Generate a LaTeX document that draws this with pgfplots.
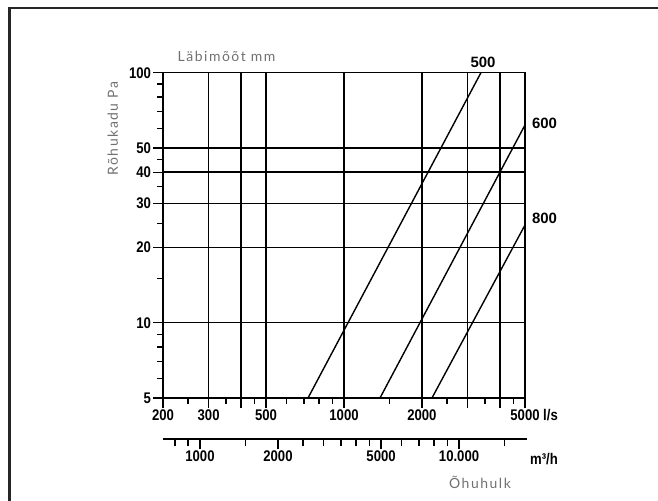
\documentclass[border=0pt]{standalone}
\usepackage{fontspec}
\setmainfont{Liberation Sans}
\newfontfamily\tickfont{Liberation Sans Bold}[FakeStretch=0.85]
\newfontfamily\boldfont{Liberation Sans Bold}
\newfontfamily\labfont{Lato}[LetterSpace=11]
\usepackage{pgfplots}
\pgfplotsset{compat=1.18}
\definecolor{labgray}{HTML}{707070}
\definecolor{framegray}{HTML}{262626}

\begin{document}
\begin{tikzpicture}
\useasboundingbox (-163bp,-103bp) rectangle (495bp,398bp);
\draw[line width=2.6bp, framegray, line join=miter] (-153.5bp,-120bp) -- (-153.5bp,390bp) -- (520bp,390bp);

\begin{axis}[
  at={(0bp,0bp)}, anchor=south west,
  scale only axis, width=362bp, height=325.3bp,
  xmode=log, ymode=log,
  xmin=200, xmax=5000, ymin=5, ymax=100,
  axis line style={line width=1.4bp},
  xtick={200,300,400,500,1000,2000,3000,4000,5000},
  xticklabels={200,300,,500,1000,2000,,,5000\rlap{ l/s}},
  ytick={5,10,20,30,40,50,100},
  yticklabels={5,10,20,30,40,50,100},
  minor xtick={250,350,450,600,700,800,900,1500,2500,3500,4500},
  minor ytick={6,7,8,9,15,25,35,45,60,70,80,90},
  tick pos=left,
  tick align=outside,
  major tick length=10bp, minor tick length=6bp,
  every tick/.style={black, line width=1.3bp},
  grid=major,
  major grid style={black, line width=1.4bp},
  tick label style={font=\tickfont\fontsize{15.5}{15.5}\selectfont},
  xticklabel style={yshift=2bp},
  yticklabel style={xshift=1.5bp},
]
\addplot[black, line width=1.4bp] coordinates {(726,5) (3379,100)};
\addplot[black, line width=1.4bp] coordinates {(1377,5) (5000,61.8)};
\addplot[black, line width=1.4bp] coordinates {(2186,5) (5000,24.6)};
\end{axis}

\begin{axis}[
  at={(0bp,-41bp)}, anchor=south west,
  scale only axis, width=364bp, height=1bp,
  xmode=log, xmin=720, xmax=18300, ymin=0, ymax=1,
  axis x line=bottom, axis y line=none,
  axis line style={-, line width=1.4bp},
  xtick={1000,2000,5000,10000},
  xticklabels={1000,2000,5000,10.000},
  minor xtick={800,900,1500,2500,3000,3500,4000,4500,6000,7000,8000,9000,15000},
  tick align=outside,
  major tick length=10bp, minor tick length=7bp,
  every tick/.style={black, line width=1.3bp},
  tick label style={font=\tickfont\fontsize{15.5}{15.5}\selectfont},
  xticklabel style={yshift=2bp},
]
\addplot[draw=none] coordinates {(1000,0.5)};
\end{axis}

\node[anchor=base, font=\labfont\fontsize{14}{14}\selectfont, text=labgray] at (63.5bp,336.3bp) {Läbimõõt mm};
\node[anchor=base, rotate=90, font=\labfont\fontsize{14}{14}\selectfont, text=labgray] at (-45bp,269.5bp) {Rõhukadu Pa};
\node[anchor=base, font=\labfont\fontsize{14}{14}\selectfont, text=labgray] at (317bp,-90.3bp) {Õhuhulk};
\node[anchor=base, font=\tickfont\fontsize{15.5}{15.5}\selectfont] at (381bp,-66.3bp) {m³/h};
\node[anchor=base, font=\boldfont\fontsize{15}{15}\selectfont] at (320bp,330.7bp) {500};
\node[anchor=base, font=\boldfont\fontsize{15}{15}\selectfont] at (381.5bp,269.7bp) {600};
\node[anchor=base, font=\boldfont\fontsize{15}{15}\selectfont] at (381.5bp,174bp) {800};
\end{tikzpicture}
\end{document}
